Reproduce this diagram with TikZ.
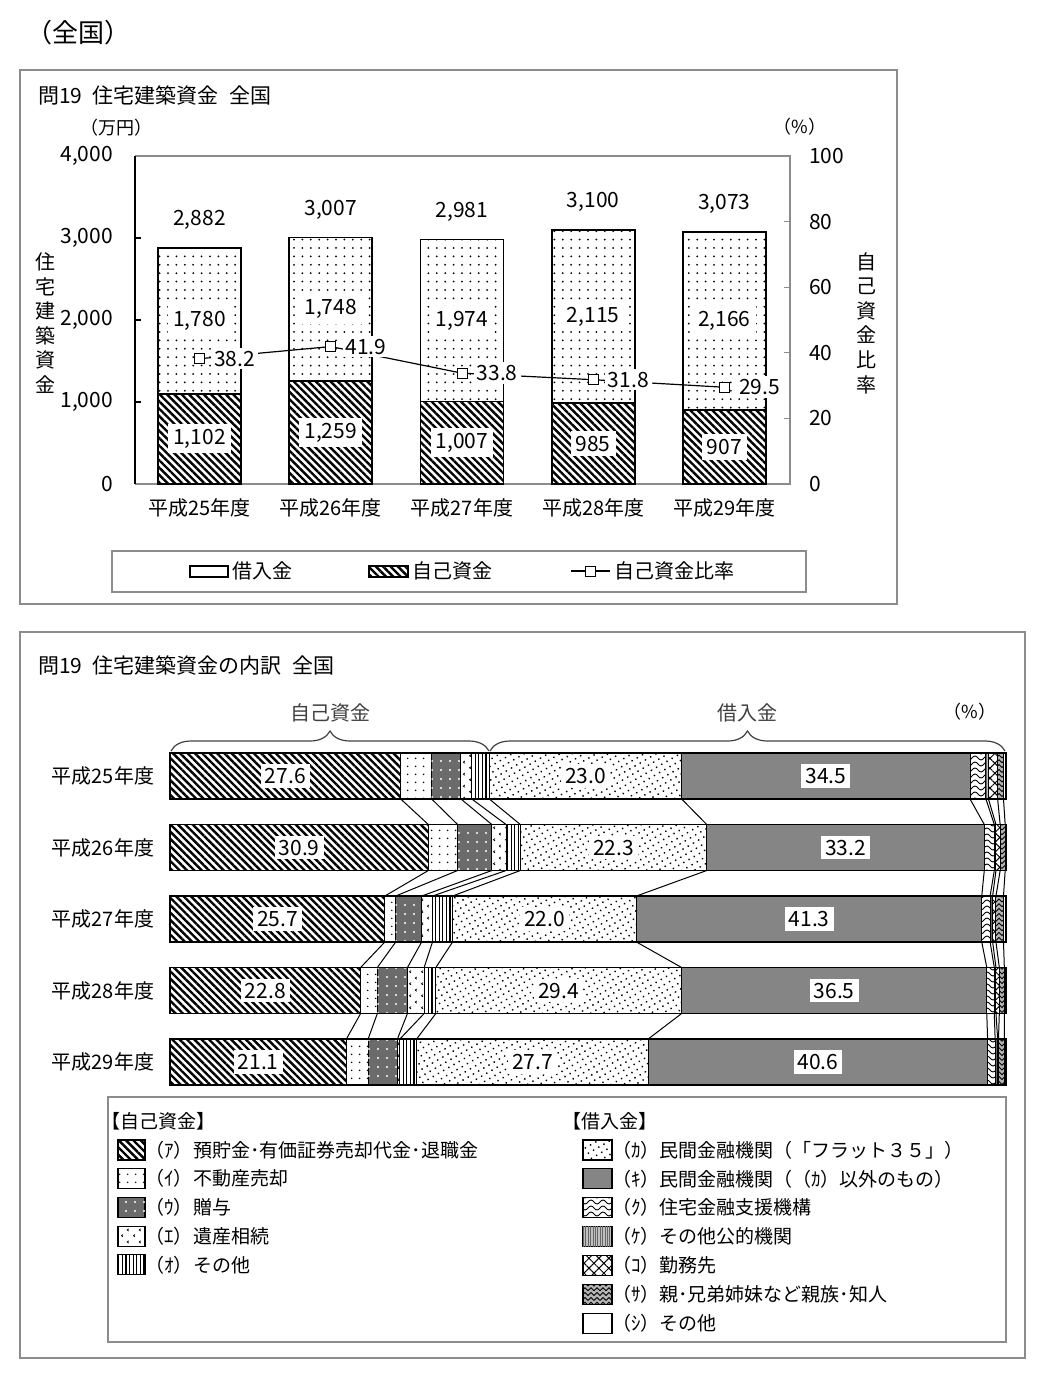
\documentclass[tikz,border=0pt]{standalone}
\usepackage{fontspec}
\setmainfont{Noto Sans CJK JP}
\usetikzlibrary{patterns.meta,decorations.pathreplacing}

\pgfkeys{/pgf/number format/.cd,1000 sep={,},assume math mode=true}

% own patterns for the small segments
\tikzdeclarepattern{
  name=wavy, type=uncolored,
  bottom left={(-0.1pt,-1.2pt)}, top right={(6.1pt,1.2pt)},
  tile size={(6pt,3pt)},
  code={\draw[line width=0.45pt] (0pt,0pt) sin (1.5pt,1pt) cos (3pt,0pt) sin (4.5pt,-1pt) cos (6pt,0pt);}
}
\tikzdeclarepattern{
  name=chevron, type=uncolored,
  bottom left={(0pt,0pt)}, top right={(6pt,6pt)},
  tile size={(6pt,6pt)},
  code={\draw[line width=0.4pt] (1.6pt,1.8pt) -- (0.8pt,1.2pt) -- (1.6pt,0.6pt)
          (4.6pt,4.8pt) -- (3.8pt,4.2pt) -- (4.6pt,3.6pt);}
}
\tikzdeclarepattern{
  name=zigzag, type=uncolored,
  bottom left={(-0.1pt,-0.1pt)}, top right={(3.1pt,1.6pt)},
  tile size={(3pt,2.4pt)},
  code={\draw[line width=0.45pt] (0pt,0pt) -- (1.5pt,1.5pt) -- (3pt,0pt);}
}

\tikzset{
  frame/.style={draw=black!45,line width=0.6pt},
  bigtitle/.style={font=\fontsize{13}{15}\selectfont},
  title/.style={font=\fontsize{10.5}{12}\selectfont},
  unit/.style={font=\fontsize{9}{11}\selectfont},
  num/.style={font=\fontsize{10.5}{12}\selectfont},
  cat/.style={font=\fontsize{10}{12}\selectfont},
  vtitle/.style={font=\fontsize{10}{12.3}\selectfont,align=center},
  leg/.style={font=\fontsize{10}{12}\selectfont,inner sep=1pt},
  legh/.style={font=\fontsize{9.5}{11}\selectfont,inner sep=1pt},
  legb/.style={font=\fontsize{9.5}{11}\selectfont,inner sep=1pt},
  box/.style={fill=white,inner sep=2.5pt},
  vbox/.style={fill=white,inner sep=2pt,font=\fontsize{10.5}{12}\selectfont},
  sq/.style={draw,fill=white,rectangle,minimum size=5pt,inner sep=0pt},
  own/.style={pattern={Lines[angle=-45,distance=2.6pt,line width=1.2pt]}},
  loan/.style={pattern={Dots[radius=0.5pt,distance=4.2pt]}},
  link/.style={line width=0.5pt},
  brc/.style={decorate,decoration={brace,amplitude=10pt},line width=0.6pt,black!75},
  seg1/.style={pattern={Lines[angle=-45,distance=2.6pt,line width=1.2pt]}},
  seg2/.style={pattern={Dots[radius=0.45pt,distance=4pt]}},
  seg3/.style={fill=black!58,postaction={pattern={Dots[radius=0.6pt,distance=4.5pt]},pattern color=white}},
  seg4/.style={pattern=chevron},
  seg5/.style={pattern={Lines[angle=90,distance=1.8pt,line width=0.6pt]}},
  seg6/.style={pattern={Dots[radius=0.5pt,distance=3pt,angle=30]}},
  seg7/.style={fill=black!48},
  seg8/.style={pattern=wavy},
  seg9/.style={fill=black!25,postaction={pattern={Lines[angle=90,distance=1.2pt,line width=0.3pt]},pattern color=black!60}},
  seg10/.style={pattern={Hatch[angle=45,distance=3.5pt,line width=0.5pt]}},
  seg11/.style={fill=black!30,postaction={pattern=zigzag}},
  seg12/.style={fill=white},
}

\begin{document}
\begin{tikzpicture}[x=0.5pt,y=-0.5pt]
\useasboundingbox (0,0) rectangle (1062,1382);
\node[bigtitle,anchor=west] (area) at (19,33) {（全国）};

% upper panel: totals
\draw[frame] (20,70) rectangle (897,604);
\node[title,anchor=west] (t1) at (31,95) {問19\enspace 住宅建築資金\enspace 全国};
\node[unit] (yen) at (116,128) {（万円）};
\node[unit] (pc) at (800,127) {（\%）};
\draw[frame] (135,156) -- (790,156) -- (790,484) -- (135,484);
\draw[line width=0.6pt] (135,156) -- (135,484);
\foreach \v in {1000,2000,3000}
  \draw[line width=0.6pt] (135,484-0.082*\v) -- (141,484-0.082*\v);
\foreach \v in {0,1000,...,4000}
  \node[num,anchor=east] (yl\v) at (120,484-0.082*\v) {\pgfmathprintnumber{\v}};
\foreach \v in {20,40,60,80}
  \draw[frame] (784,484-3.28*\v) -- (790,484-3.28*\v);
\foreach \v in {0,20,...,100}
  \node[num,anchor=west] (yr\v) at (802,484-3.28*\v) {\v};
\node[vtitle] (ytl) at (45,323) {住\\宅\\建\\築\\資\\金};
\node[vtitle] (ytr) at (866,323) {自\\己\\資\\金\\比\\率};

\foreach \k/\own/\loan/\pct/\yr in {1/1102/1780/38.2/25,2/1259/1748/41.9/26,
    3/1007/1974/33.8/27,4/985/2115/31.8/28,5/907/2166/29.5/29}{
  \pgfmathsetmacro\cx{199.5+131.2*(\k-1)}
  \pgfmathsetmacro\ya{484-0.082*\own}
  \pgfmathsetmacro\yb{484-0.082*(\own+\loan)}
  \pgfmathtruncatemacro\tot{\own+\loan}
  \path[own,draw,line width=0.9pt] (\cx-41.5,484) rectangle (\cx+41.5,\ya);
  \path[loan,draw,line width=0.9pt] (\cx-41.5,\ya) rectangle (\cx+41.5,\yb);
  \node[num,box] (ov\k) at (\cx,{(484+\ya)/2}) {\pgfmathprintnumber{\own}};
  \node[num,box] (lv\k) at (\cx,{(\ya+\yb)/2}) {\pgfmathprintnumber{\loan}};
  \node[num] (tv\k) at (\cx,\yb-28) {\pgfmathprintnumber{\tot}};
  \node[cat] (c\k) at (\cx,508) {平成{\yr}年度};
  \coordinate (p\k) at (\cx,{484-3.28*\pct});
}
\draw[line width=0.6pt] (p1) -- (p2) -- (p3) -- (p4) -- (p5);
\foreach \k/\pct in {1/38.2,2/41.9,3/33.8,4/31.8,5/29.5}{
  \node[sq] (m\k) at (p\k) {};
  \node[num,fill=white,inner sep=1.5pt,anchor=west] (r\k) at ([xshift=3pt]m\k.east) {\pct};
}

% upper legend
\draw[frame] (112,551) rectangle (806,592);
\path[draw,fill=white,line width=0.9pt] (190,566) rectangle (228,577);
\node[leg,anchor=west] (lg1) at (230,571) {借入金};
\path[own,draw,line width=0.9pt] (369,566) rectangle (408,577);
\node[leg,anchor=west] (lg2) at (410,571) {自己資金};
\coordinate (la) at (571,571);
\coordinate (lb) at (610,571);
\draw[line width=0.6pt] (la) -- (lb);
\node[sq] (lm) at (590.5,571) {};
\node[leg,anchor=west] (lg3) at (612,571) {自己資金比率};

% lower panel: breakdown
\draw[frame] (20,632) rectangle (1025,1358);
\node[title,anchor=west] (t2) at (31,665) {問19\enspace 住宅建築資金の内訳\enspace 全国};
\node[unit] (pc2) at (970,712) {（\%）};
\draw[brc] (171,751) -- (489,751) node[midway,above=11pt,cat] (bo) {自己資金};
\draw[brc] (490,751) -- (1005,751) node[midway,above=11pt,cat] (bl) {借入金};

\foreach \r/\yr/\d in {
    1/25/{27.6,3.7,3.5,1.3,2.1,23.0,34.5,1.9,0.3,1.1,0.7,0.3},
    2/26/{30.9,3.5,4.1,1.7,1.7,22.3,33.2,1.2,0.2,0.5,0.6,0.1},
    3/27/{25.7,1.3,3.1,1.3,2.4,22.0,41.3,1.0,0.3,0.4,0.9,0.3},
    4/28/{22.8,2.0,3.6,2.0,1.4,29.4,36.5,0.9,0.2,0.4,0.6,0.2},
    5/29/{21.1,2.6,3.5,0.3,2.0,27.7,40.6,0.9,0.3,0.1,0.7,0.2}}{
  \pgfmathsetmacro\yt{753+71.5*(\r-1)}
  \node[cat] (row\r) at (103,\yt+23) {平成{\yr}年度};
  \foreach \v [count=\i, evaluate=\v as \e using \s+\v, remember=\e as \s (initially 0)] in \d {
    \path[seg\i,draw,line width=0.5pt] ({170+8.36*\s},\yt) rectangle ({170+8.36*\e},\yt+46);
    \coordinate (b\r-\i-t) at ({170+8.36*\e},\yt);
    \coordinate (b\r-\i-b) at ({170+8.36*\e},\yt+46);
    \pgfmathtruncatemacro\haslab{(\i==1)||(\i==6)||(\i==7)}
    \ifnum\haslab=1
      \node[vbox] (v\r-\i) at ({170+4.18*(\s+\e)},\yt+23) {\v};
    \fi
  }
  \draw[line width=0.8pt] (170,\yt) rectangle (1006,\yt+46);
}
\foreach \r [evaluate=\r as \n using int(\r+1)] in {1,...,4}
  \foreach \k in {1,...,11}
    \draw[link] (b\r-\k-b) -- (b\n-\k-t);

% lower legend
\draw[frame] (108,1097) rectangle (1006,1342);
\node[legh,anchor=west] (h1) at (99,1121) {【自己資金】};
\foreach \i/\t/\n in {1/ｱ/預貯金･有価証券売却代金･退職金,2/ｲ/不動産売却,3/ｳ/贈与,
    4/ｴ/遺産相続,5/ｵ/その他}{
  \pgfmathsetmacro\yy{1150+28.7*(\i-1)}
  \path[seg\i,draw,line width=0.6pt] (118,\yy-10) rectangle (145,\yy+10);
  \node[legb,anchor=west] (ka\i) at (143,\yy) {（{\t}）};
  \node[legb,anchor=west] (kn\i) at (191,\yy) {\n};
}
\node[legh,anchor=west] (h2) at (560,1121) {【借入金】};
\foreach \i/\t/\n in {6/ｶ/民間金融機関（「フラット３５」）,7/ｷ/民間金融機関（（ｶ）以外のもの）,
    8/ｸ/住宅金融支援機構,9/ｹ/その他公的機関,10/ｺ/勤務先,
    11/ｻ/親･兄弟姉妹など親族･知人,12/ｼ/その他}{
  \pgfmathsetmacro\yy{1150+28.85*(\i-6)}
  \path[seg\i,draw,line width=0.6pt] (583,\yy-10) rectangle (612,\yy+10);
  \node[legb,anchor=west] (kb\i) at (610,\yy) {（{\t}）};
  \node[legb,anchor=west] (km\i) at (657,\yy) {\n};
}
\end{tikzpicture}
\end{document}
